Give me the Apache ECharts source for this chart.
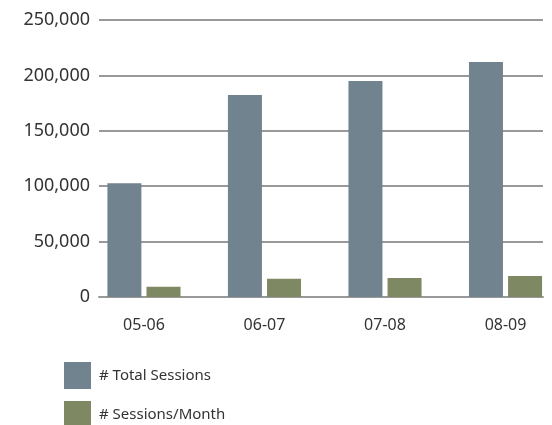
<!DOCTYPE html>
<html>
<head>
<meta charset="utf-8">
<title>Sessions</title>
<script src="https://cdn.jsdelivr.net/npm/echarts@6/dist/echarts.min.js"></script>
<style>
    html, body {margin: 0; padding: 0; background: #fff;}
    #chart {width: 552px; height: 425px;}
</style>
</head>
<body>
<div id="chart"></div>
<script>
    "use strict";
    // 数据
    var categories = ['05-06', '06-07', '07-08', '08-09'];
    var totalSessions = [102600, 182300, 194900, 212100];
    var sessionsPerMonth = [9300, 16500, 17100, 18950];
    var seriesNames = ['# Total Sessions', '# Sessions/Month'];
    var yTicks = {min: 0, max: 250000, interval: 50000};

    var fontFamily = '"Noto Sans", "Open Sans", sans-serif';

    var chart = echarts.init(document.getElementById('chart'), null, {renderer: 'canvas'});

    var formatNumber = function (v) {
        return String(v).replace(/\B(?=(\d{3})+(?!\d))/g, ',');
    };

    // 类目序号 -> [序号, 值], x 轴用数值轴, 原图的组间距比网格宽
    var toPairs = function (arr) {
        return arr.map(function (v, i) {
            return [i, v];
        });
    };

    // 图例: 每个系列一个, 竖排 (第二个超出画布底部, 所以分开放)
    var makeLegend = function (name, top) {
        return {
            left: 59,
            top: top,
            itemWidth: 27,
            itemHeight: 27,
            icon: 'rect',
            data: [name],
            textStyle: {color: '#333', fontSize: 15, fontFamily: fontFamily, padding: [0, 0, 0, 3]}
        };
    };

    var option = {
        backgroundColor: '#fff',
        animation: false,
        legend: [
            makeLegend(seriesNames[0], 357),
            makeLegend(seriesNames[1], 396)
        ],
        grid: {left: 99, right: 9, top: 20, bottom: 128},
        xAxis: {
            type: 'value',
            min: -0.373,
            max: 3.311,
            minInterval: 1,
            axisLine: {show: true, lineStyle: {color: '#999', width: 2}},
            axisTick: {show: false},
            splitLine: {show: false},
            axisLabel: {
                color: '#333', fontSize: 16, fontFamily: fontFamily, margin: 20,
                showMinLabel: false, showMaxLabel: false,
                formatter: function (v) {
                    return Number.isInteger(v) && categories[v] ? categories[v] : '';
                }
            }
        },
        yAxis: {
            type: 'value',
            min: yTicks.min,
            max: yTicks.max,
            interval: yTicks.interval,
            axisLine: {show: false},
            axisTick: {show: false},
            splitLine: {lineStyle: {color: '#999', width: 2}},
            axisLabel: {
                color: '#333', fontSize: 18, fontFamily: fontFamily, margin: 9,
                formatter: formatNumber
            }
        },
        series: [
            {
                name: seriesNames[0],
                type: 'bar',
                data: toPairs(totalSessions),
                barWidth: 34,
                barGap: '15%',
                itemStyle: {color: '#71838f'}
            },
            {
                name: seriesNames[1],
                type: 'bar',
                data: toPairs(sessionsPerMonth),
                barWidth: 34,
                barGap: '15%',
                itemStyle: {color: '#7e8863'}
            }
        ]
    };

    chart.setOption(option);
</script>
</body>
</html>
